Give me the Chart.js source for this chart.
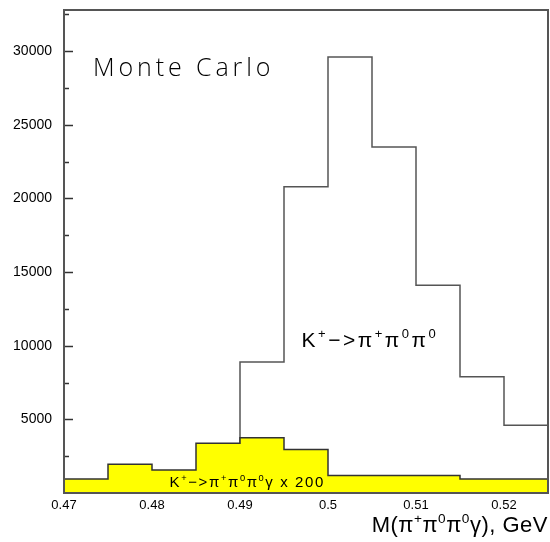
<!DOCTYPE html>
<html lang="en">
<head>
	<meta charset="utf-8">
	<title>Monte Carlo M(pi+ pi0 pi0 gamma)</title>
	<style>
		html, body { margin: 0; padding: 0; background: #fff; }
		#wrap { width: 550px; height: 542px; }
	</style>
</head>
<body>

<div id="wrap">
	<canvas id="myChart" width="550" height="542"></canvas>
</div>

<script src="https://cdn.jsdelivr.net/npm/chart.js@4"></script>
<script>
// bin edges (GeV), bin width 0.005
var binEdges = [0.47, 0.475, 0.48, 0.485, 0.49, 0.495, 0.5, 0.505, 0.51, 0.515, 0.52, 0.525];
// K+ -> pi+ pi0 pi0 (events per bin)
var mainCounts = [0, 0, 0, 0, 8900, 20800, 29600, 23500, 14100, 7900, 4600];
// K+ -> pi+ pi0 pi0 gamma, scaled x 200
var gammaCounts = [950, 1950, 1570, 3380, 3760, 2950, 1180, 1180, 1180, 950, 950];

var xTicks = [0.47, 0.48, 0.49, 0.5, 0.51, 0.52];
// major ticks every 5000 (labelled), minor every 2500
var yTicks = [0, 2500, 5000, 7500, 10000, 12500, 15000, 17500, 20000, 22500, 25000, 27500, 30000, 32500];
var yMax = 32800;

// labels: [text, superscript?]
var mainLabel = [['K', 0], ['+', 1], ['\u2212>\u03C0', 0], ['+', 1], ['\u03C0', 0], ['0', 1], ['\u03C0', 0], ['0', 1]];
var gammaLabel = [['K', 0], ['+', 1], ['\u2212>\u03C0', 0], ['+', 1], ['\u03C0', 0], ['0', 1], ['\u03C0', 0], ['0', 1], ['\u03B3 x 200', 0]];
var xTitle = [['M(\u03C0', 0], ['+', 1], ['\u03C0', 0], ['0', 1], ['\u03C0', 0], ['0', 1], ['\u03B3), GeV', 0]];

// histogram -> points at left edges + last right edge
function histPoints(edges, counts) {
	var pts = [];
	for (var i = 0; i < counts.length; i++) {
		pts.push({ x: edges[i], y: counts[i] });
	}
	pts.push({ x: edges[edges.length - 1], y: counts[counts.length - 1] });
	return pts;
}

// text with superscripts, returns width (measure only if draw false)
function richText(ctx, parts, x, y, size, spacing, draw) {
	var cx = x;
	ctx.letterSpacing = spacing + 'px';
	parts.forEach(function (p) {
		var sz = p[1] ? size * 0.62 : size;
		ctx.font = sz + 'px "Liberation Sans"';
		if (draw) ctx.fillText(p[0], cx, p[1] ? y - size * 0.42 : y);
		cx += ctx.measureText(p[0]).width;
	});
	ctx.letterSpacing = '0px';
	return cx - x;
}

// frame, inward ticks and texts
var decor = {
	id: 'decor',
	afterDraw: function (chart) {
		var ctx = chart.ctx;
		var a = chart.chartArea;
		var xs = chart.scales.x;
		var ys = chart.scales.y;
		ctx.save();

		// y ticks, pointing inside
		ctx.strokeStyle = '#333';
		ctx.lineWidth = 1.5;
		ys.ticks.forEach(function (t) {
			if (t.value <= 0) return;
			var py = Math.round(ys.getPixelForValue(t.value)) + 0.5;
			var len = (t.value % 5000 === 0) ? 9 : 5;
			ctx.beginPath();
			ctx.moveTo(a.left, py);
			ctx.lineTo(a.left + len, py);
			ctx.stroke();
		});

		// box
		ctx.strokeStyle = '#555';
		ctx.lineWidth = 2;
		ctx.strokeRect(a.left, a.top, a.right - a.left, a.bottom - a.top);

		ctx.fillStyle = '#000';
		ctx.textBaseline = 'alphabetic';
		ctx.textAlign = 'left';

		// Monte Carlo
		ctx.font = '300 25px "Open Sans"';
		ctx.letterSpacing = '3.9px';
		ctx.fillText('Monte Carlo', xs.getPixelForValue(0.4733), ys.getPixelForValue(28300));
		ctx.letterSpacing = '0px';

		// main channel
		richText(ctx, mainLabel, xs.getPixelForValue(0.497), ys.getPixelForValue(9930), 21, 2.5, true);

		// radiative channel
		richText(ctx, gammaLabel, xs.getPixelForValue(0.482), ys.getPixelForValue(420), 15, 1.6, true);

		// axis title, right aligned at the frame
		var w = richText(ctx, xTitle, 0, 0, 22, 0.5, false);
		richText(ctx, xTitle, a.right - w, 532, 22, 0.5, true);

		ctx.restore();
	}
};

var ctx = document.getElementById('myChart').getContext('2d');
var chart = new Chart(ctx, {
	type: 'line',
	data: {
		datasets: [
			{
				label: 'K+ -> pi+ pi0 pi0 gamma x 200',
				data: histPoints(binEdges, gammaCounts),
				stepped: 'before',
				borderColor: '#333',
				borderWidth: 1.5,
				backgroundColor: '#ffff00',
				fill: 'origin',
				pointRadius: 0,
				order: 0
			},
			{
				label: 'K+ -> pi+ pi0 pi0',
				data: histPoints(binEdges, mainCounts),
				stepped: 'before',
				borderColor: '#555',
				borderWidth: 1.5,
				fill: false,
				pointRadius: 0,
				order: 1
			}
		]
	},
	options: {
		responsive: false,
		animation: false,
		events: [],
		layout: { padding: { top: 10, right: 2, left: 0, bottom: 0 } },
		plugins: {
			legend: { display: false },
			tooltip: { enabled: false }
		},
		scales: {
			x: {
				type: 'linear',
				min: 0.47,
				max: 0.525,
				afterFit: function (s) { s.height = 49; s.paddingLeft = 0; s.paddingRight = 0; },
				afterBuildTicks: function (s) {
					s.ticks = xTicks.map(function (v) { return { value: v }; });
				},
				grid: { display: false, drawTicks: false },
				border: { display: false },
				ticks: {
					padding: 5,
					maxRotation: 0,
					autoSkip: false,
					color: '#000',
					font: { family: 'Liberation Sans', size: 13 },
					callback: function (v) { return String(+v.toFixed(3)); }
				}
			},
			y: {
				min: 0,
				max: yMax,
				afterFit: function (s) { s.width = 64; s.paddingTop = 0; s.paddingBottom = 0; },
				afterBuildTicks: function (s) {
					s.ticks = yTicks.map(function (v) { return { value: v }; });
				},
				grid: { display: false, drawTicks: false },
				border: { display: false },
				ticks: {
					autoSkip: false,
					padding: 12,
					color: '#000',
					font: { family: 'Liberation Sans', size: 14 },
					callback: function (v) {
						if (v === 0 || v % 5000 !== 0) return '';
						return String(v);
					}
				}
			}
		}
	},
	plugins: [decor]
});
</script>

</body>
</html>
